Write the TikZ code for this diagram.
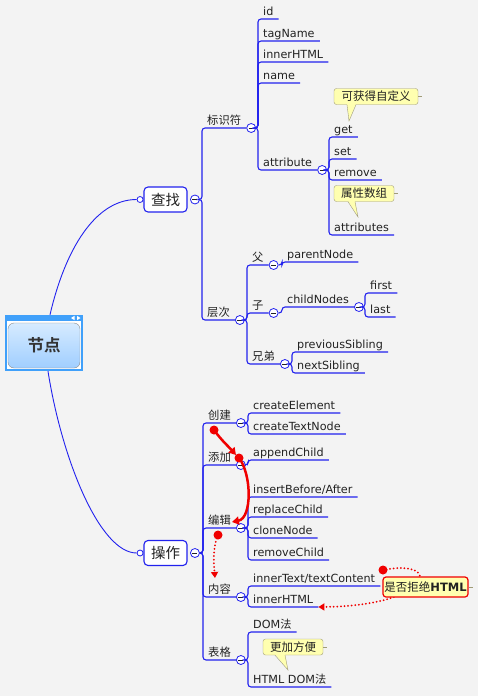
\documentclass[tikz,border=0pt]{standalone}
\usepackage{fontspec}
\setmainfont{DejaVu Sans}
\newfontfamily\cjk{Noto Sans CJK SC}
\IfFontExistsTF{Noto Sans CJK SC Bold}
  {\newfontfamily\cjkbold{Noto Sans CJK SC Bold}}
  {\newfontfamily\cjkbold[FakeBold=3]{Noto Sans CJK SC}}
\usetikzlibrary{arrows.meta,positioning}
\definecolor{mapblue}{RGB}{34,34,238}
\definecolor{ink}{RGB}{34,34,34}
\definecolor{bg}{RGB}{243,243,243}
\definecolor{rootblue}{RGB}{64,160,250}
\definecolor{roottop}{RGB}{214,235,255}
\definecolor{rootbot}{RGB}{160,206,255}
\definecolor{notefill}{RGB}{255,255,176}
\definecolor{notedraw}{RGB}{160,156,120}
\definecolor{relred}{RGB}{240,0,0}

\begin{document}
\begin{tikzpicture}[x=1pt, y=-1pt,
  every node/.style={text=ink},
  branch/.style={draw=mapblue, line width=1.1pt, rounded corners=3pt},
  leaf/.style={anchor=south west, inner xsep=5pt, inner ysep=1.5pt,
    text height=7.5pt, text depth=2pt, font=\fontsize{11.2}{12}\selectfont},
  cnleaf/.style={leaf, text height=8pt, font=\cjk\fontsize{11.3}{12}\selectfont},
  fold/.style={circle, draw=mapblue, fill=white, line width=0.8pt,
    minimum size=9pt, inner sep=0pt, anchor=west,
    path picture={\draw[ink, line width=1pt]
      ([xshift=-2.5pt]path picture bounding box.center) --
      ([xshift=2.5pt]path picture bounding box.center);}},
  hook/.style={circle, draw=mapblue, fill=white, line width=0.8pt,
    minimum size=6pt, inner sep=0pt, anchor=east},
  topic/.style={draw=mapblue, fill=white, line width=1.1pt, rounded corners=4pt,
    minimum width=43pt, minimum height=25pt, inner sep=0pt,
    font=\cjk\fontsize{14.5}{16}\selectfont},
  note/.style={draw=notedraw, fill=notefill, rounded corners=2.5pt,
    minimum height=16pt, inner sep=0pt, font=\cjk\fontsize{11.5}{12}\selectfont},
  rel/.style={relred, line width=2.5pt, -{Triangle[length=7pt,width=8pt]}},
  reldot/.style={relred, line width=2pt, line cap=round,
    dash pattern=on 0pt off 3.6pt, -{Triangle[length=6pt,width=7pt]}}
]
  \path[use as bounding box, fill=bg] (0,0) rectangle (478,696);

  % root topic
  \node[fill=rootblue, minimum width=78pt, minimum height=56pt, inner sep=0pt] (rootframe) at (44,343) {};
  \fill[white] ([shift={(2pt,2pt)}]rootframe.south west) rectangle ([shift={(-2pt,-6pt)}]rootframe.north east);
  \node[draw=black!45, rounded corners=6pt, top color=roottop, bottom color=rootbot,
    minimum width=72pt, minimum height=45pt,
    font=\cjkbold\fontsize{16.5}{18}\selectfont, text=black!80] (root) at (44,345.5) {节点};
  \fill[white] (71,318) -- (74.5,315.8) -- (74.5,320.2) -- cycle;
  \fill[white] (77,315.8) -- (80.5,318) -- (77,320.2) -- cycle;

  % main branches
  \node[topic] (zhao) at (165.5,199.5) {查找};
  \node[hook] (zhao-in) at (zhao.west) {};
  \node[fold] (f-zhao) at ([xshift=2.5pt]zhao.east) {};
  \node[topic] (cao) at (165.5,553) {操作};
  \node[hook] (cao-in) at (cao.west) {};
  \node[fold] (f-cao) at ([xshift=2.5pt]cao.east) {};
  \draw[mapblue, line width=0.9pt] ([xshift=6pt]rootframe.north) .. controls (65,250) and (95,199.5) .. (zhao-in.west);
  \draw[mapblue, line width=0.9pt] ([xshift=4pt]rootframe.south) .. controls (62,460) and (100,553) .. (cao-in.west);

  % 查找
  \node[cnleaf] (biaoshi) at (202,128) {标识符};
  \node[cnleaf] (cengci) at (202,320) {层次};
  \foreach \k in {biaoshi,cengci}
    \draw[branch] (f-zhao.east) -- (f-zhao.east -| \k.south west) -- (\k.south west) -- (\k.south east);
  \node[fold] (f-biaoshi) at (biaoshi.south east) {};
  \node[fold] (f-cengci) at (cengci.south east) {};

  \foreach \n/\y/\t in {id/19/id, tagname/41/tagName, innerhtml/62/innerHTML, name/83/name, attribute/170/attribute}
    \node[leaf] (\n) at (258,\y) {\t};
  \foreach \k in {id,tagname,innerhtml,name,attribute}
    \draw[branch] (f-biaoshi.east) -- (f-biaoshi.east -| \k.south west) -- (\k.south west) -- (\k.south east);
  \node[fold] (f-attribute) at (attribute.south east) {};

  \foreach \n/\y/\t in {get/137/get, set/159/set, remove/180/remove, attributes/235/attributes}
    \node[leaf] (\n) at (329,\y) {\t};
  \foreach \k in {get,set,remove,attributes}
    \draw[branch] (f-attribute.east) -- (f-attribute.east -| \k.south west) -- (\k.south west) -- (\k.south east);

  \foreach \n/\y/\t in {fu/265/父, zi/313/子, xiongdi/364/兄弟}
    \node[cnleaf] (\n) at (247,\y) {\t};
  \foreach \k in {fu,zi,xiongdi}
    \draw[branch] (f-cengci.east) -- (f-cengci.east -| \k.south west) -- (\k.south west) -- (\k.south east);
  \foreach \k in {fu,zi,xiongdi}
    \node[fold] (f-\k) at (\k.south east) {};

  \node[leaf] (parentnode) at (282,262) {parentNode};
  \draw[branch] (f-fu.east) -- (f-fu.east -| parentnode.south west) -- (parentnode.south west) -- (parentnode.south east);
  \node[leaf] (childnodes) at (282,307) {childNodes};
  \draw[branch] (f-zi.east) -- (f-zi.east -| childnodes.south west) -- (childnodes.south west) -- (childnodes.south east);
  \node[fold] (f-childnodes) at (childnodes.south east) {};
  \node[leaf] (first) at (365,293) {first};
  \node[leaf] (last) at (365,317) {last};
  \foreach \k in {first,last}
    \draw[branch] (f-childnodes.east) -- (f-childnodes.east -| \k.south west) -- (\k.south west) -- (\k.south east);
  \node[leaf] (prevsib) at (292,352) {previousSibling};
  \node[leaf] (nextsib) at (292,373) {nextSibling};
  \foreach \k in {prevsib,nextsib}
    \draw[branch] (f-xiongdi.east) -- (f-xiongdi.east -| \k.south west) -- (\k.south west) -- (\k.south east);

  % 操作
  \foreach \n/\y/\t in {chuang/423/创建, tian/465/添加, bian/528/编辑, nei/597/内容, biao/660/表格}
    \node[cnleaf] (\n) at (203,\y) {\t};
  \foreach \k in {chuang,tian,bian,nei,biao}
    \draw[branch] (f-cao.east) -- (f-cao.east -| \k.south west) -- (\k.south west) -- (\k.south east);
  \foreach \k in {chuang,tian,bian,nei,biao}
    \node[fold] (f-\k) at (\k.south east) {};

  \foreach \n/\y/\t in {createel/413/createElement, createtext/434/createTextNode,
      appendchild/460/appendChild, insert/497/{insertBefore/After}, replace/517/replaceChild,
      clone/538/cloneNode, removechild/560/removeChild, innertext/586/{innerText/textContent},
      innerhtmlb/607/innerHTML, dom/632/{DOM{\cjk 法}}, htmldom/687/{HTML DOM{\cjk 法}}}
    \node[leaf] (\n) at (248,\y) {\t};
  \foreach \p/\k in {chuang/createel, chuang/createtext, tian/appendchild, bian/insert, bian/replace,
      bian/clone, bian/removechild, nei/innertext, nei/innerhtmlb, biao/dom, biao/htmldom}
    \draw[branch] (f-\p.east) -- (f-\p.east -| \k.south west) -- (\k.south west) -- (\k.south east);

  % notes
  \node[note, minimum width=84pt] (note-get) at (376,96.5) {可获得自定义};
  \fill[notefill] ([xshift=-29pt,yshift=1pt]note-get.south) -- (349,121) -- ([xshift=-20pt,yshift=1pt]note-get.south) -- cycle;
  \draw[notedraw] ([xshift=-29pt]note-get.south) -- (349,121) -- ([xshift=-20pt]note-get.south);
  \draw[notedraw] (note-get.east) -- ++(4,0);
  \node[note, minimum width=60pt] (note-attr) at (364,193.5) {属性数组};
  \fill[notefill] ([xshift=-16pt,yshift=1pt]note-attr.south) -- (358,217) -- ([xshift=-9pt,yshift=1pt]note-attr.south) -- cycle;
  \draw[notedraw] ([xshift=-16pt]note-attr.south) -- (358,217) -- ([xshift=-9pt]note-attr.south);
  \draw[notedraw] (note-attr.east) -- ++(4,0);
  \node[note, minimum width=60pt] (note-table) at (293,647) {更加方便};
  \fill[notefill] ([xshift=-18pt,yshift=1pt]note-table.south) -- (288,670) -- ([xshift=-8pt,yshift=1pt]note-table.south) -- cycle;
  \draw[notedraw] ([xshift=-18pt]note-table.south) -- (288,670) -- ([xshift=-8pt]note-table.south);
  \draw[notedraw] (note-table.east) -- ++(4,0);

  % relationships
  \coordinate (r1a) at (214,430);
  \coordinate (r1b) at (236,455);
  \coordinate (r2a) at (239,458);
  \coordinate (r2b) at (232,522);
  \coordinate (r3a) at (218,535);
  \coordinate (r3b) at (215,578);
  \coordinate (r4a) at (383,570);
  \fill[relred] (r1a) circle (4.5pt);
  \draw[rel] (r1a) .. controls (222,441) and (229,447) .. (r1b);
  \fill[relred] (r2a) circle (4.5pt);
  \draw[rel] (r2a) .. controls (252,475) and (252,518) .. (r2b);
  \fill[relred] (r3a) circle (4.5pt);
  \draw[reldot] (r3a) .. controls (212,550) and (214,565) .. (r3b);
  \fill[relred] (r4a) circle (4.5pt);
  \draw[reldot] (r4a) .. controls (445,558) and (432,606) .. (innerhtmlb.south east);
  \node[note, draw=relred, line width=1.2pt, rounded corners=3pt, minimum width=85pt, minimum height=20pt]
    (note-html) at (425.5,587) {是否拒绝\textbf{\fontspec{DejaVu Sans}HTML}};
  \draw[notedraw] (note-html.east) -- ++(4,0);
\end{tikzpicture}
\end{document}
